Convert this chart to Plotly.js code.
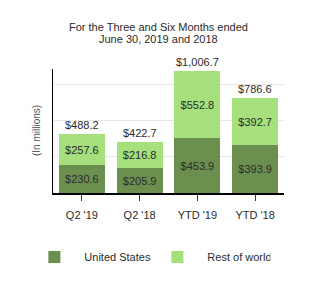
<!DOCTYPE html>
<html><head><meta charset="utf-8">
<script src="https://cdn.plot.ly/plotly-3.0.1.min.js"></script>
<style>html,body{margin:0;padding:0;background:#fff;}#chart{width:317px;height:293px;}</style>
</head><body><div id="chart"></div>
<script>
const categories = ["Q2 '19", "Q2 '18", "YTD '19", "YTD '18"];
const unitedStates = [230.6, 205.9, 453.9, 393.9];
const restOfWorld = [257.6, 216.8, 552.8, 392.7];
const totals = [488.2, 422.7, 1006.7, 786.6];
const seriesNames = ["United States", "Rest of world"];
const titleLines = ['For the Three and Six Months ended', 'June 30, 2019 and 2018'];

const fmt = v => '$' + v.toLocaleString('en-US', {minimumFractionDigits: 1, maximumFractionDigits: 1});
const FONT = 'Liberation Sans, Arial, sans-serif';

const traces = [
  {type: 'bar', name: seriesNames[0], x: categories, y: unitedStates,
   marker: {color: '#6b8f4f'}, text: unitedStates.map(fmt), textposition: 'inside',
   insidetextanchor: 'middle', textfont: {color: '#2b2b2b', size: 11, family: FONT}, hoverinfo: 'none'},
  {type: 'bar', name: seriesNames[1], x: categories, y: restOfWorld,
   marker: {color: '#a6e07c'}, text: restOfWorld.map(fmt), textposition: 'inside',
   insidetextanchor: 'middle', textfont: {color: '#2b2b2b', size: 11, family: FONT}, hoverinfo: 'none'}
];

const annotations = categories.map((c, i) => ({
  x: c, y: totals[i], xref: 'x', yref: 'y', text: fmt(totals[i]), showarrow: false,
  yanchor: 'bottom', yshift: 1, font: {size: 11, color: '#2b2b2b', family: FONT}
}));
annotations.push({
  text: '(In millions)', xref: 'paper', yref: 'paper', x: 0, y: 0.5, xshift: -17,
  xanchor: 'center', yanchor: 'middle', textangle: -90, showarrow: false,
  font: {size: 10, color: '#555', family: FONT}
});
// title lines (plot area spans pixel y 69..193, height 124)
[27, 39].forEach((py, i) => annotations.push({
  text: titleLines[i], xref: 'paper', yref: 'paper', x: (158.5 - 53) / 231, y: (193 - py) / 124,
  xanchor: 'center', yanchor: 'middle', showarrow: false,
  font: {size: 11, color: '#2b2b2b', family: FONT}
}));

const layout = {
  width: 317, height: 293,
  margin: {l: 53, r: 33, t: 69, b: 100},
  paper_bgcolor: '#fff', plot_bgcolor: '#fff',
  font: {family: FONT, color: '#2b2b2b', size: 11},
  barmode: 'stack', bargap: 0.2,
  showlegend: true,
  legend: {orientation: 'h', x: -0.124, xanchor: 'left', y: -0.4, yanchor: 'top',
           entrywidth: 58, entrywidthmode: 'pixels', itemwidth: 50,
           font: {size: 11, color: '#2b2b2b', family: FONT}, traceorder: 'normal'},
  xaxis: {type: 'category', range: [-0.5, 3.5], showline: true, linecolor: '#000', linewidth: 1.5,
          ticks: 'outside', ticklen: 6, tickcolor: '#333', tickwidth: 1, showgrid: false,
          ticklabelstandoff: 5,
          tickfont: {size: 11, color: '#2b2b2b', family: FONT}, fixedrange: true},
  yaxis: {range: [0, 1025], dtick: 300, showgrid: true, gridcolor: '#e6e6e6', gridwidth: 1,
          showline: true, linecolor: '#000', linewidth: 1.5, showticklabels: false, zeroline: false,
          fixedrange: true},
  annotations: annotations
};

Plotly.newPlot('chart', traces, layout, {displayModeBar: false, staticPlot: true});
</script></body></html>
